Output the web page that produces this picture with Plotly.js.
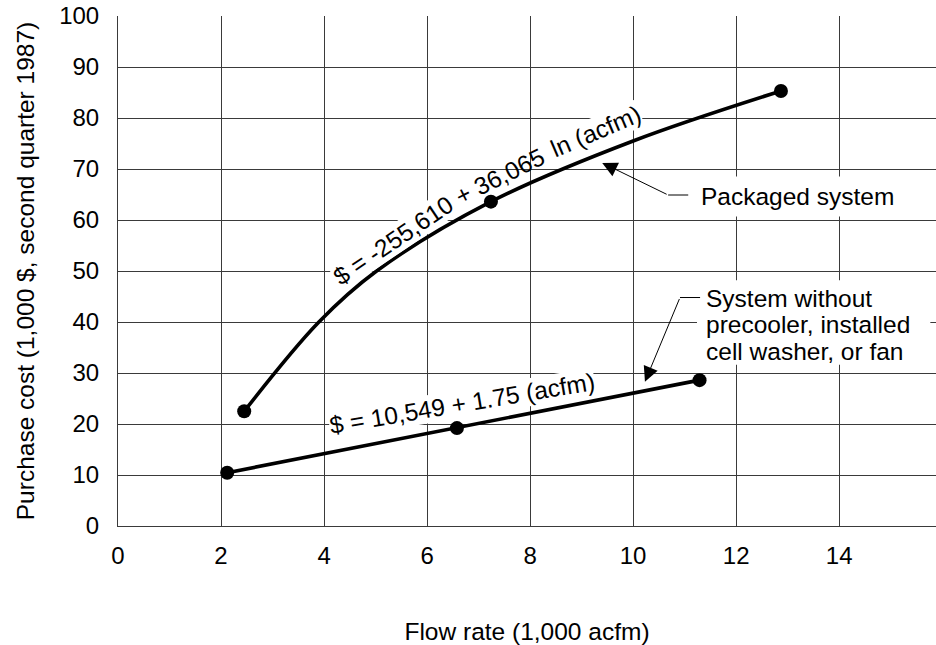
<!DOCTYPE html>
<html>
<head>
<meta charset="utf-8">
<script src="https://cdn.plot.ly/plotly-3.0.1.min.js"></script>
<style>html,body{margin:0;padding:0;background:#fff;}#chart{width:936px;height:645px;}</style>
</head>
<body>
<div id="chart"></div>
<script>
var packagedCurveX = [2.45, 3.9, 5.02, 7.24, 10.0, 12.87];
var packagedCurveY = [22.5, 40.0, 50.0, 63.6, 75.5, 85.3];
var packagedPointsX = [2.45, 7.24, 12.87];
var packagedPointsY = [22.5, 63.6, 85.3];

// System without precooler, installed cell washer, or fan
var basicX = [2.12, 6.58, 11.29];
var basicY = [10.45, 19.2, 28.6];

var xTicks = [0, 2, 4, 6, 8, 10, 12, 14];
var yTicks = [0, 10, 20, 30, 40, 50, 60, 70, 80, 90, 100];

var FONT = 'Liberation Sans, Arial, sans-serif';
var GRID = '#3a3a3a';

var traces = [
  {x: packagedCurveX, y: packagedCurveY, mode: 'lines', type: 'scatter',
   line: {color: '#000', width: 3.6, shape: 'spline', smoothing: 1}, hoverinfo: 'skip', showlegend: false},
  {x: packagedPointsX, y: packagedPointsY, mode: 'markers', type: 'scatter',
   marker: {color: '#000', size: 14}, showlegend: false, name: 'Packaged system'},
  {x: basicX, y: basicY, mode: 'lines+markers', type: 'scatter',
   line: {color: '#000', width: 3.6}, marker: {color: '#000', size: 14}, showlegend: false,
   name: 'System without precooler'}
];

var annFont = {family: FONT, size: 24.5, color: '#000'};

var layout = {
  width: 936, height: 645,
  margin: {l: 118, r: 0, t: 16, b: 119, pad: 0},
  paper_bgcolor: '#fff', plot_bgcolor: '#fff',
  font: {family: FONT, size: 24, color: '#000'},
  showlegend: false,
  xaxis: {
    range: [0, 15.88], tickvals: xTicks, ticktext: xTicks.map(String),
    showgrid: true, gridcolor: GRID, gridwidth: 1, zeroline: false,
    showline: true, linecolor: GRID, linewidth: 1, ticks: '', ticklabelstandoff: 8,
    tickfont: {family: FONT, size: 24, color: '#000'},
    title: {text: 'Flow rate (1,000 acfm)', font: {family: FONT, size: 24.5, color: '#000'}, standoff: 61}
  },
  yaxis: {
    range: [0, 100], tickvals: yTicks, ticktext: yTicks.map(String),
    showgrid: true, gridcolor: GRID, gridwidth: 1, zeroline: false,
    showline: true, linecolor: GRID, linewidth: 1, ticks: '', ticklabelstandoff: 13,
    tickfont: {family: FONT, size: 24, color: '#000'},
    title: {text: 'Purchase cost (1,000 $, second quarter 1987)', font: {family: FONT, size: 24.5, color: '#000'}, standoff: 17}
  },
  annotations: [
    // equation written along the curve, in three pieces that follow its bend
    {x: 5.342, y: 56.0, xref: 'x', yref: 'y', text: '$ = -255,610', textangle: -34,
     showarrow: false, font: annFont, bgcolor: '#fff', borderpad: 0},
    {x: 7.414, y: 68.45, xref: 'x', yref: 'y', text: '+ 36,065', textangle: -26.5,
     showarrow: false, font: annFont},
    {x: 9.27, y: 77.4, xref: 'x', yref: 'y', text: 'ln (acfm)', textangle: -23,
     showarrow: false, font: annFont, bgcolor: '#fff', borderpad: 0},
    {x: 6.68, y: 24.1, xref: 'x', yref: 'y', text: '$ = 10,549 + 1.75 (acfm)', textangle: -9.5,
     showarrow: false, font: annFont, bgcolor: '#fff', borderpad: 0},
    {x: 11.18, y: 64.6, xref: 'x', yref: 'y', xanchor: 'left', text: 'Packaged system',
     showarrow: false, font: annFont, bgcolor: '#fff', borderpad: 6},
    {x: 9.40, y: 71.2, xref: 'x', yref: 'y', ax: 10.68, ay: 64.9, axref: 'x', ayref: 'y', text: '',
     showarrow: true, arrowhead: 2, arrowsize: 3, arrowwidth: 1, arrowcolor: '#000'},
    {x: 11.38, y: 44.7, xref: 'x', yref: 'y', xanchor: 'left', text: 'System without',
     showarrow: false, font: annFont},
    {x: 11.38, y: 39.5, xref: 'x', yref: 'y', xanchor: 'left', text: 'precooler, installed',
     showarrow: false, font: annFont},
    {x: 11.38, y: 34.3, xref: 'x', yref: 'y', xanchor: 'left', text: 'cell washer, or fan',
     showarrow: false, font: annFont},
    {x: 10.23, y: 28.3, xref: 'x', yref: 'y', ax: 10.91, ay: 44.8, axref: 'x', ayref: 'y', text: '',
     showarrow: true, arrowhead: 2, arrowsize: 3, arrowwidth: 1, arrowcolor: '#000'}
  ],
  shapes: [
    // white box behind the three-line label, hiding the grid there
    {type: 'rect', xref: 'x', yref: 'y', x0: 11.24, x1: 15.77, y0: 31.6, y1: 48.2,
     fillcolor: '#fff', line: {width: 0}, layer: 'between'},
    {type: 'line', xref: 'x', yref: 'y', x0: 10.68, y0: 64.9, x1: 11.07, y1: 64.9, line: {color: '#000', width: 1}, layer: 'above'},
    {type: 'line', xref: 'x', yref: 'y', x0: 10.91, y0: 44.8, x1: 11.30, y1: 44.8, line: {color: '#000', width: 1}, layer: 'above'}
  ]
};

Plotly.newPlot('chart', traces, layout, {displayModeBar: false, staticPlot: true});
</script>
</body>
</html>
